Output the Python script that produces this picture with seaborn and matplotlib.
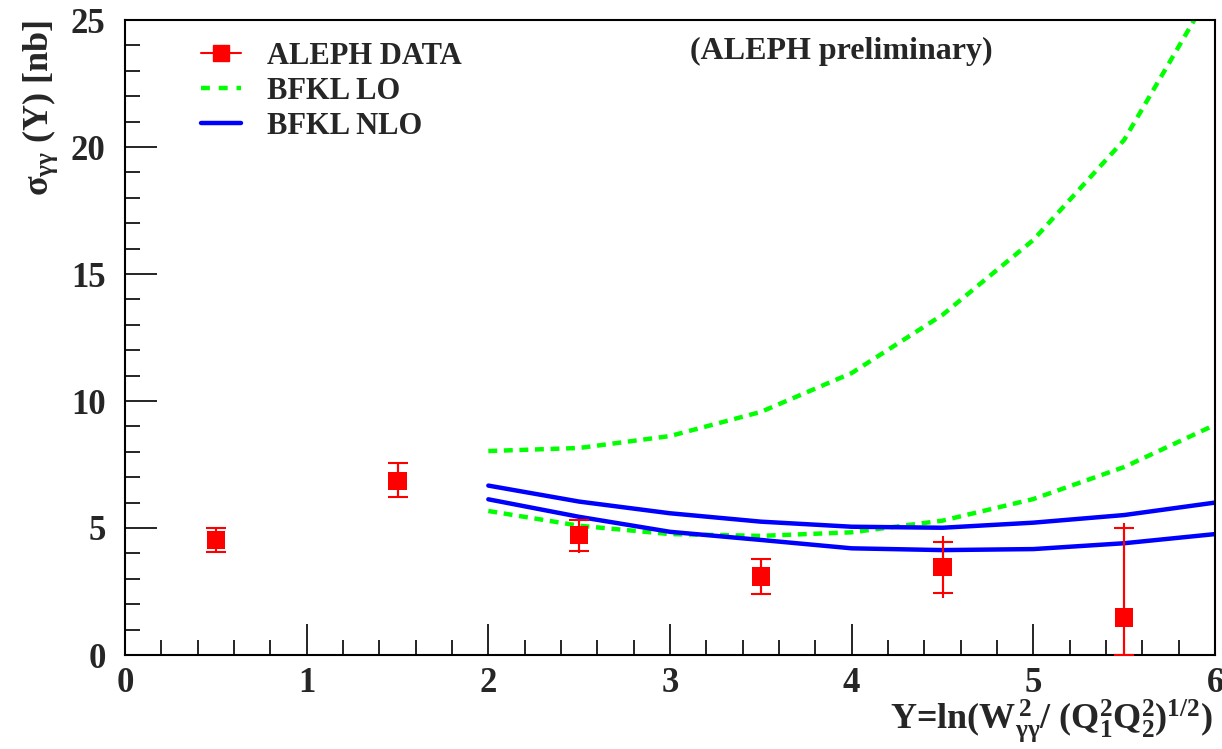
import numpy as np
import pandas as pd
import matplotlib
matplotlib.use("Agg")
import matplotlib.pyplot as plt
import seaborn as sns
from matplotlib.lines import Line2D
from matplotlib.ticker import MultipleLocator


# ========== data ==========
data_x = [0.5, 1.5, 2.5, 3.5, 4.5, 5.5]
data_y = [4.53, 6.85, 4.72, 3.08, 3.46, 1.47]
stat_lo = [0.47, 0.63, 0.63, 0.67, 1.01, 1.47]
stat_hi = [0.47, 0.71, 0.59, 0.70, 1.00, 3.52]
tot_lo = [0.47, 0.63, 0.72, 0.67, 1.22, 1.47]
tot_hi = [0.47, 0.71, 0.59, 0.70, 1.23, 3.73]

curve_x = [2.0, 2.5, 3.0, 3.5, 4.0, 4.5, 5.0, 5.5, 6.0]
lo_upper = [8.03, 8.15, 8.62, 9.57, 11.1, 13.39, 16.34, 20.28, 26.4]
lo_lower = [5.67, 5.09, 4.76, 4.69, 4.83, 5.29, 6.14, 7.40, 9.06]
nlo_upper = [6.67, 6.04, 5.58, 5.25, 5.05, 5.01, 5.21, 5.51, 6.00]
nlo_lower = [6.13, 5.44, 4.85, 4.53, 4.20, 4.13, 4.17, 4.40, 4.76]

legend_labels = ["ALEPH DATA", "BFKL LO", "BFKL NLO"]


sns.set_style("white")
plt.rcParams["font.family"] = ["Liberation Serif", "DejaVu Serif"]
plt.rcParams["font.weight"] = "bold"
plt.rcParams["mathtext.fontset"] = "custom"
plt.rcParams["mathtext.rm"] = "Liberation Serif:bold"
plt.rcParams["mathtext.it"] = "Liberation Serif:bold"
plt.rcParams["mathtext.bf"] = "Liberation Serif:bold"

fig = plt.figure(figsize=(12.22, 7.49), dpi=100)
ax = fig.add_axes([125/1222, 1-655/749, 1090/1222, 635/749])

GREEN = "#00ff00"
BLUE = "#0000ff"
RED = "#ff0000"

curves = pd.DataFrame({"Y": curve_x, "lo_up": lo_upper, "lo_dn": lo_lower,
                       "nlo_up": nlo_upper, "nlo_dn": nlo_lower})

for col in ["lo_up", "lo_dn"]:
    sns.lineplot(data=curves, x="Y", y=col, ax=ax, color=GREEN, lw=3.2,
                 dashes=False)
for line in ax.lines:
    line.set_dashes([2.0, 1.5])
    line.set_dash_capstyle("butt")
for col in ["nlo_up", "nlo_dn"]:
    sns.lineplot(data=curves, x="Y", y=col, ax=ax, color=BLUE, lw=3.2)

# data: total error (no caps) + stat error (caps)
ax.errorbar(data_x, data_y, yerr=[tot_lo, tot_hi], fmt="none", ecolor=RED,
            elinewidth=1.5, capsize=0, zorder=4)
ax.errorbar(data_x, data_y, yerr=[stat_lo, stat_hi], fmt="none", ecolor=RED,
            elinewidth=1.5, capsize=7, capthick=1.5, zorder=4)
pts = pd.DataFrame({"Y": data_x, "sigma": data_y})
sns.scatterplot(data=pts, x="Y", y="sigma", ax=ax, marker="s", s=180,
                color=RED, edgecolor="none", zorder=5)

ax.set_xlim(0, 6)
ax.set_ylim(0, 25)

ax.xaxis.set_major_locator(MultipleLocator(1))
ax.xaxis.set_minor_locator(MultipleLocator(0.2))
ax.yaxis.set_major_locator(MultipleLocator(5))
ax.yaxis.set_minor_locator(MultipleLocator(1))
ax.tick_params(axis="both", which="both", direction="in", top=False,
               right=False, bottom=True, left=True, color="black", width=1.2)
ax.tick_params(axis="x", which="major", length=22, pad=9, labelsize=25)
ax.tick_params(axis="x", which="minor", length=11)
ax.tick_params(axis="y", which="major", length=23, pad=14, labelsize=25)
ax.tick_params(axis="y", which="minor", length=11)
for lab in ax.get_xticklabels() + ax.get_yticklabels():
    lab.set_fontweight("bold")
for sp in ax.spines.values():
    sp.set_visible(True)
    sp.set_color("black")
    sp.set_linewidth(1.5)

ax.set_xlabel(r"Y=ln(W$_{\gamma\gamma}^{\,2}$/ (Q$_1^2$Q$_2^2$)$^{1/2}$)",
              fontsize=26, fontweight="bold", ha="right")
ax.xaxis.set_label_coords(0.998, -0.067)
ax.set_ylabel(r"$\mathrm{\sigma}_{\gamma\gamma}$ (Y) [nb]", fontsize=26,
              fontweight="bold", ha="right")
ax.yaxis.set_label_coords(-0.060, 1.0)

ax.text(0.657, 0.95, "(ALEPH preliminary)", transform=ax.transAxes,
        fontsize=23, fontweight="bold", ha="center", va="center")

handles = [
    Line2D([], [], color=RED, lw=1.5, marker="s", markersize=11,
           markeredgecolor=RED),
    Line2D([], [], color=GREEN, lw=3.2, dashes=[2.0, 2.0]),
    Line2D([], [], color=BLUE, lw=3.2),
]
leg = ax.legend(handles, legend_labels, loc="upper left",
                bbox_to_anchor=(0.056, 0.99), frameon=False,
                prop={"family": "Liberation Serif", "weight": "bold",
                      "size": 22},
                handlelength=1.3, handletextpad=0.85, labelspacing=0.2,
                borderpad=0)

fig.savefig("out.png", dpi=100)
